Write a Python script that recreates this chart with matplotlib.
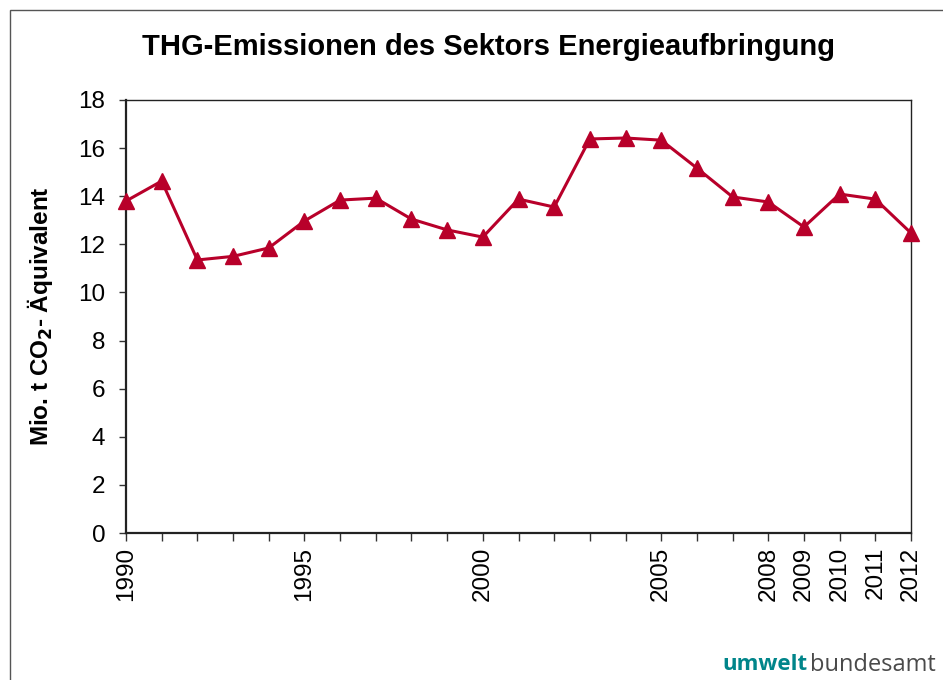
import matplotlib
matplotlib.use("Agg")
import matplotlib.pyplot as plt
from matplotlib.patches import Rectangle

plt.rcParams['font.family'] = ['Liberation Sans', 'DejaVu Sans']

years = list(range(1990, 2013))
emissions = [13.8, 14.63, 11.35, 11.5, 11.85, 12.97, 13.84, 13.92, 13.05, 12.6, 12.3,
             13.88, 13.55, 16.38, 16.42, 16.33, 15.17, 13.97, 13.76, 12.72, 14.09, 13.88, 12.47]
labeled_years = [1990, 1995, 2000, 2005, 2008, 2009, 2010, 2011, 2012]
yticks = list(range(0, 19, 2))

title = "THG-Emissionen des Sektors Energieaufbringung"
ylabel = "Mio. t CO$_\\mathbf{2}$- Äquivalent"

color = "#B8002A"

fig = plt.figure(figsize=(9.43, 6.8), dpi=100)
fig.patches.append(Rectangle((10/943, -0.1), 1.2, (680-10)/680 + 0.1, transform=fig.transFigure,
                             fill=False, edgecolor="#555555", linewidth=1.0))
ax = fig.add_axes([126/943, (680-533)/680, (911-126)/943, (533-100)/680])
ax.plot(years, emissions, color=color, linewidth=2.2, marker='^', markersize=11,
        markerfacecolor=color, markeredgecolor=color, clip_on=False, zorder=3)
ax.set_xlim(1990, 2012)
ax.set_ylim(0, 18)
ax.set_yticks(yticks)
ax.set_yticklabels([str(v) for v in yticks], fontsize=17.5)
ax.set_xticks(years)
ax.set_xticklabels([str(y) if y in labeled_years else "" for y in years], rotation=90, fontsize=17.5)
ax.tick_params(axis='y', direction='out', length=5, width=1, color="#333333", pad=10)
ax.tick_params(axis='x', direction='out', length=6, width=1, color="#333333", pad=4)
for s in ax.spines.values():
    s.set_linewidth(1.0)
    s.set_color("#222222")
ax.spines['left'].set_linewidth(1.6)
ax.spines['bottom'].set_linewidth(1.6)

fig.text(488/943, 1 - 47/680, title, ha='center', va='center', fontsize=21, fontweight='bold')
fig.text(40/943, 1 - 316/680, ylabel, ha='center', va='center', rotation=90, fontsize=17.5, fontweight='bold')

# logo
fig.text(808/943, 1 - 665/680, "umwelt", color="#00858A", fontsize=16, fontweight='bold',
         ha='right', va='center', family=['Open Sans', 'DejaVu Sans'])
fig.text(810/943, 1 - 665/680, "bundesamt", color="#4A4A4A", fontsize=17,
         ha='left', va='center', family=['Open Sans', 'DejaVu Sans'])

fig.savefig("out.png", dpi=100)
